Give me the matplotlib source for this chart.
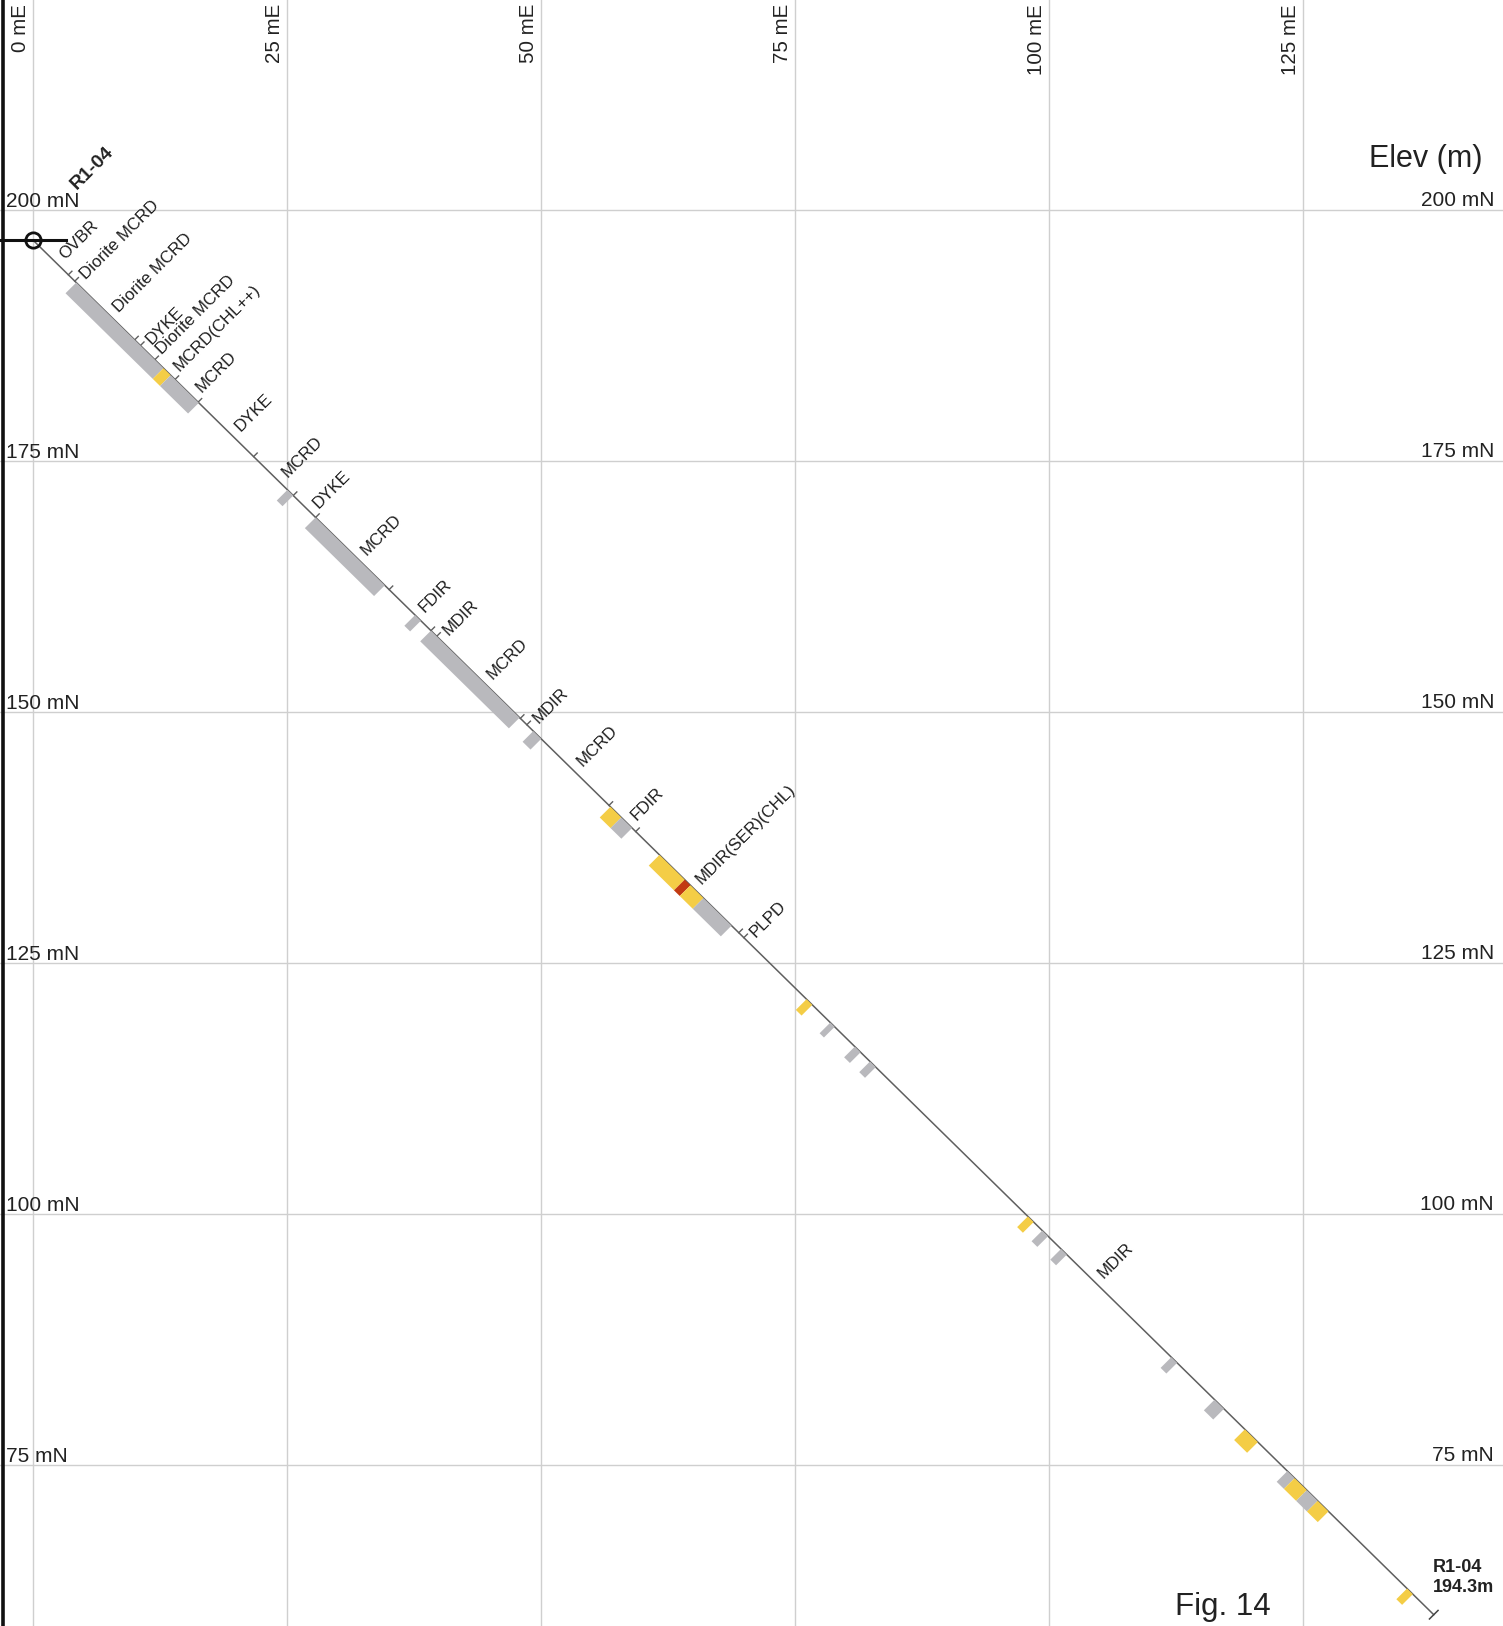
import numpy as np
import matplotlib.pyplot as plt
from matplotlib.patches import Polygon

plt.rcParams['font.family'] = ['Liberation Sans', 'DejaVu Sans']

# section grid (m)
east_ticks = [0, 25, 50, 75, 100, 125]
north_ticks = [200, 175, 150, 125, 100, 75]

# hole R1-04
hole_id = 'R1-04'
collar_e = 0.0
collar_n = 197.0
dip = 44.8
hole_len = 194.3

# lithology log, depth of top of each unit (m)
lith_from = [0, 4.9, 5.8, 14.1, 14.9, 16.9, 19.7, 22.9, 30.6, 36.1,
             39.2, 49.4, 55.2, 56.0, 67.6, 68.5, 79.9, 83.6, 97.9, 98.6]
lith_code = ['OVBR', 'Diorite MCRD', 'Diorite MCRD', 'DYKE', 'Diorite MCRD',
             'MCRD(CHL++)', 'MCRD', 'DYKE', 'MCRD', 'DYKE',
             'MCRD', 'FDIR', 'MDIR', 'MCRD', 'MDIR',
             'MCRD', 'FDIR', 'MDIR(SER)(CHL)', 'PLPD', 'MDIR']

# assay samples (m) and grade class
samp_from = [6.0, 18.1, 19.1, 35.3, 39.2, 53.0, 55.2, 69.4, 80.1, 81.6,
             86.9, 90.4, 91.2, 93.0, 107.3, 110.6, 114.0, 116.1, 138.0, 140.0,
             142.6, 157.9, 163.9, 168.1, 174.0, 175.0, 176.7, 178.2, 190.6]
samp_to = [18.1, 19.1, 23.0, 36.1, 48.8, 53.8, 67.5, 70.5, 81.6, 83.1,
           90.4, 91.2, 93.0, 96.9, 108.1, 111.2, 114.8, 116.9, 138.8, 140.8,
           143.4, 158.7, 165.2, 169.9, 175.0, 176.7, 178.2, 179.7, 191.4]
samp_class = ['low', 'mid', 'low', 'low', 'low', 'low', 'low', 'low', 'mid', 'low',
              'mid', 'high', 'mid', 'low', 'mid', 'low', 'low', 'low', 'mid', 'low',
              'low', 'low', 'low', 'mid', 'low', 'mid', 'low', 'mid', 'mid']
class_colors = {'low': '#b9b9bd', 'mid': '#f4cd46', 'high': '#c23a12'}

# page scale: about 10.16 px/m east, 10.04 px/m north
xmin = -33 / 10.16
xmax = xmin + 1503 / 10.16
ymax = 200 + 210 / 10.04
ymin = ymax - 1626 / 10.04

fig = plt.figure(figsize=(15.03, 16.26), dpi=100)
ax = fig.add_axes([0, 0, 1, 1])
ax.set_xlim(xmin, xmax)
ax.set_ylim(ymin, ymax)
ax.axis('off')

# grid
for e in east_ticks:
    ax.axvline(e, color='#cfcfcf', lw=1.0, zorder=1)
    ax.annotate(f'{e} mE', xy=(e, ymax), xytext=(-3, -4), textcoords='offset pixels',
                rotation=90, ha='right', va='top', fontsize=14.8, color='#222222')
for nn in north_ticks:
    ax.axhline(nn, color='#cfcfcf', lw=1.0, zorder=1)
    ax.annotate(f'{nn} mN', xy=(xmin, nn), xytext=(6, 3), textcoords='offset pixels',
                ha='left', va='baseline', fontsize=15, color='#222222')
    ax.annotate(f'{nn} mN', xy=(xmax, nn), xytext=(-9, 4), textcoords='offset pixels',
                ha='right', va='baseline', fontsize=15, color='#222222')

# page edge
ax.axvline(xmin + 2.5 / 10.16, color='#111111', lw=2.6, zorder=1)

# hole geometry
rad = np.radians(dip)
u = np.array([np.cos(rad), -np.sin(rad)])        # down the hole
n_out = np.array([-np.sin(rad), -np.cos(rad)])   # lower-left side (samples)
collar = np.array([collar_e, collar_n])


def at(d):
    return collar + d * u


end = at(hole_len)
ax.plot([collar[0], end[0]], [collar[1], end[1]], color='#5f5f5f', lw=1.1, zorder=2)

# end of hole tick
a, b = end + 0.6 * n_out, end - 0.6 * n_out
ax.plot([a[0], b[0]], [a[1], b[1]], color='#444444', lw=1.1, zorder=2)

# samples
w = 1.5
for d0, d1, c in zip(samp_from, samp_to, samp_class):
    p0, p1 = at(d0), at(d1)
    poly = Polygon([p0, p1, p1 + w * n_out, p0 + w * n_out], closed=True,
                   facecolor=class_colors[c], edgecolor='none', zorder=3)
    ax.add_patch(poly)

# lithology contacts and labels
lith_to = lith_from[1:] + [hole_len]
for d0, d1, code in zip(lith_from, lith_to, lith_code):
    if d0 > 0:
        p = at(d0)
        q = p - 0.5 * n_out
        ax.plot([p[0], q[0]], [p[1], q[1]], color='#5f5f5f', lw=1.0, zorder=2)
    pos = at((d0 + d1) / 2) - 0.85 * n_out
    ax.text(pos[0], pos[1], code, rotation=45, rotation_mode='anchor',
            ha='left', va='top', fontsize=12.2, color='#1e1e1e', zorder=4)

# collar symbol
ax.plot([xmin, collar[0] + 3.2], [collar[1], collar[1]], color='#111111', lw=2.2, zorder=5)
ax.plot(collar[0], collar[1], marker='o', markersize=11, mfc='none', mec='#111111',
        mew=2.0, zorder=6)
ax.text(4.3, 202.0, hole_id, rotation=45, rotation_mode='anchor', ha='left',
        va='baseline', fontsize=14, fontweight='bold', color='#222222')

# titles
ax.text(xmin + 1482 / 10.16, ymax - 167 / 10.04, 'Elev (m)', ha='right', va='baseline',
        fontsize=22, color='#222222')
ax.text(xmin + 1175 / 10.16, ymax - 1615 / 10.04, 'Fig. 14', ha='left', va='baseline',
        fontsize=22.5, color='#222222')
ax.text(xmin + 1433 / 10.16, ymax - 1572 / 10.04, hole_id, ha='left', va='baseline',
        fontsize=13, fontweight='bold', color='#222222')
ax.text(xmin + 1433 / 10.16, ymax - 1592 / 10.04, f'{hole_len}m', ha='left', va='baseline',
        fontsize=13, fontweight='bold', color='#222222')

fig.savefig('out.png', dpi=100)
